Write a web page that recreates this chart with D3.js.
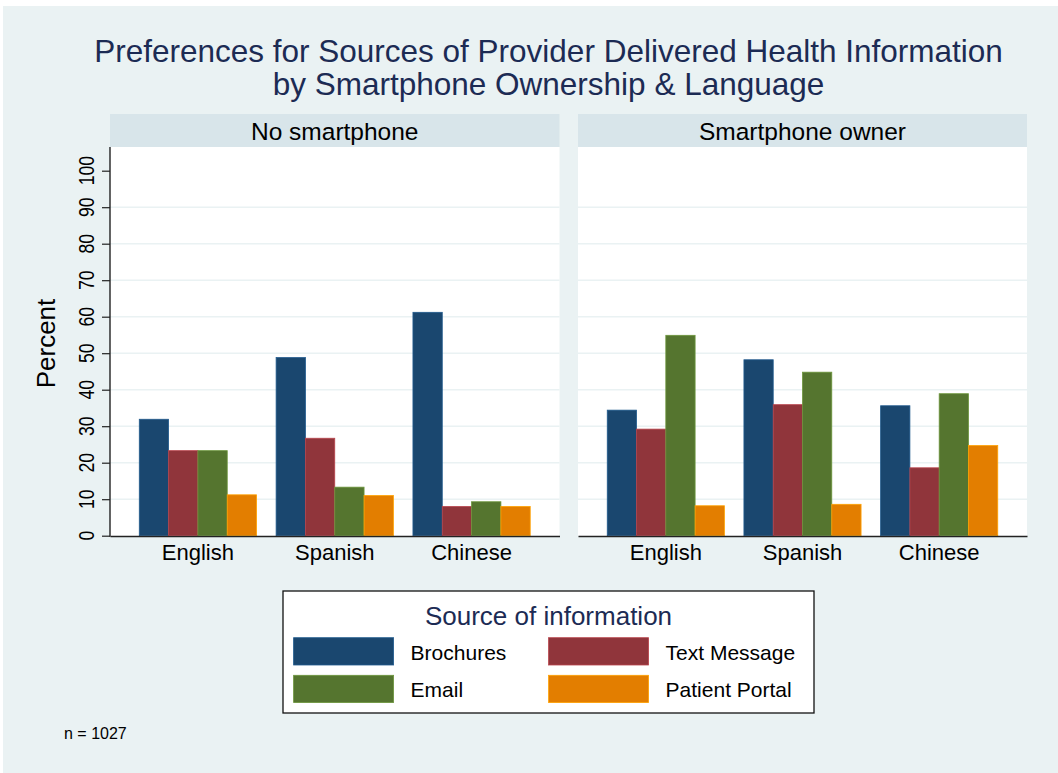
<!DOCTYPE html>
<html>
<head>
<meta charset="utf-8">
<script src="https://cdn.jsdelivr.net/npm/d3@7"></script>
<style>
  body { margin: 0; background: #fff; }
  svg text { font-family: "Liberation Sans", Arial, Helvetica, sans-serif; }
</style>
</head>
<body>
<div id="chart"></div>
<script>
// categories and series
const languages = ["English", "Spanish", "Chinese"];
const panels = ["No smartphone", "Smartphone owner"];
const sources = ["Brochures", "Text Message", "Email", "Patient Portal"];
const sourceColors = ["#1a476f", "#90353b", "#55752f", "#e37e00"];
const yTicks = [0, 10, 20, 30, 40, 50, 60, 70, 80, 90, 100];

// percent, rows = languages, columns = sources
const noPhoneValues = [
    [31.9, 23.3, 23.3, 11.2],
    [48.8, 26.7, 13.3, 11.0],
    [61.2, 8.0, 9.3, 8.0]
];
const ownerValues = [
    [34.4, 29.2, 54.9, 8.2],
    [48.2, 35.9, 44.8, 8.6],
    [35.6, 18.6, 38.9, 24.7]
];
const panelValues = [noPhoneValues, ownerValues];

let width = 1058, height = 773;
let svg = d3.select('#chart').append('svg')
    .attr('width', width)
    .attr('height', height);

// graph region
svg.append('rect')
    .attr('x', 3).attr('y', 6)
    .attr('width', width - 3).attr('height', height - 6)
    .attr('fill', '#eaf2f3');

// title
let title = svg.append('text')
    .attr('text-anchor', 'middle')
    .attr('fill', '#1c2b54')
    .attr('font-size', 31.5);
title.append('tspan').attr('x', 548.5).attr('y', 62)
    .text('Preferences for Sources of Provider Delivered Health Information');
title.append('tspan').attr('x', 548.5).attr('y', 95)
    .text('by Smartphone Ownership & Language');

let plotTop = 147, plotBottom = 536;
let panelRanges = [[110, 559.5], [578, 1027]];

let y = d3.scaleLinear().domain([0, 100]).range([535.7, 170.7]);

panels.forEach(function (name, p) {
    let [x0, x1] = panelRanges[p];
    let g = svg.append('g');

    // strip header
    g.append('rect')
        .attr('x', x0).attr('y', 114)
        .attr('width', x1 - x0).attr('height', plotTop - 114)
        .attr('fill', '#d8e5ea');
    g.append('text')
        .attr('x', (x0 + x1) / 2).attr('y', 139.5)
        .attr('text-anchor', 'middle')
        .attr('font-size', 24.5)
        .attr('fill', '#000')
        .text(name);

    // plot region
    g.append('rect')
        .attr('x', x0).attr('y', plotTop)
        .attr('width', x1 - x0).attr('height', plotBottom - plotTop)
        .attr('fill', '#fff');

    // gridlines
    g.selectAll('line.grid')
        .data(yTicks.filter(d => d > 0 && d < 100))
        .enter().append('line')
        .attr('class', 'grid')
        .attr('x1', x0).attr('x2', x1)
        .attr('y1', d => y(d)).attr('y2', d => y(d))
        .attr('stroke', '#eaf2f3')
        .attr('stroke-width', 1.5);

    let xg = d3.scaleBand()
        .domain(languages)
        .range([x0, x1])
        .paddingInner(0.143)
        .paddingOuter(0.214);
    let xs = d3.scaleBand()
        .domain(sources)
        .range([0, xg.bandwidth()]);

    let groups = g.selectAll('g.lang')
        .data(languages)
        .enter().append('g')
        .attr('class', 'lang')
        .attr('transform', d => `translate(${xg(d)},0)`);

    groups.selectAll('rect')
        .data((d, i) => sources.map((s, j) => ({ source: s, value: panelValues[p][i][j], color: sourceColors[j] })))
        .enter().append('rect')
        .attr('x', d => xs(d.source))
        .attr('width', xs.bandwidth())
        .attr('y', d => y(d.value))
        .attr('height', d => y(0) - y(d.value))
        .attr('fill', d => d.color)
        .attr('stroke', d => d3.color(d.color).brighter(0.7))
        .attr('stroke-width', 0.8);

    // x axis
    let xAxis = g.append('g')
        .attr('transform', `translate(0,${plotBottom})`)
        .call(d3.axisBottom(xg).tickSize(0).tickSizeOuter(0).tickPadding(8));
    xAxis.select('.domain').attr('stroke', '#222').attr('stroke-width', 1.4);
    xAxis.selectAll('text')
        .attr('font-size', 22)
        .attr('fill', '#000')
        .attr('font-family', '"Liberation Sans", Arial, sans-serif')
        .attr('dy', '0.71em');

    // y axis only on the first panel
    if (p === 0) {
        let yAxis = g.append('g')
            .attr('transform', `translate(${x0},0)`)
            .call(d3.axisLeft(y).tickValues(yTicks).tickSize(8).tickFormat(''));
        yAxis.select('.domain').remove();
        yAxis.selectAll('line').attr('stroke', '#222').attr('stroke-width', 1.2);
        g.append('line')
            .attr('x1', x0).attr('x2', x0)
            .attr('y1', plotTop).attr('y2', plotBottom + 0.7)
            .attr('stroke', '#222').attr('stroke-width', 1.4);

        g.selectAll('text.ytick')
            .data(yTicks)
            .enter().append('text')
            .attr('class', 'ytick')
            .attr('transform', d => `translate(93.5,${y(d)}) rotate(-90) scale(0.8,1)`)
            .attr('text-anchor', 'middle')
            .attr('font-size', 22)
            .attr('fill', '#000')
            .text(d => d);

        g.append('text')
            .attr('transform', 'translate(55,343.5) rotate(-90)')
            .attr('text-anchor', 'middle')
            .attr('font-size', 26)
            .attr('fill', '#000')
            .text('Percent');
    }
});

// legend
let legend = svg.append('g');
legend.append('rect')
    .attr('x', 283).attr('y', 591)
    .attr('width', 531).attr('height', 122)
    .attr('fill', '#fff')
    .attr('stroke', '#111')
    .attr('stroke-width', 1.3);
legend.append('text')
    .attr('x', 548.5).attr('y', 625)
    .attr('text-anchor', 'middle')
    .attr('font-size', 26)
    .attr('fill', '#1c2b54')
    .text('Source of information');

let legendCols = [293.6, 548.6];
let legendRows = [637.7, 675.3];
let items = legend.selectAll('g.item')
    .data(sources)
    .enter().append('g')
    .attr('class', 'item')
    .attr('transform', (d, i) => `translate(${legendCols[i % 2]},${legendRows[Math.floor(i / 2)]})`);
items.append('rect')
    .attr('width', 100).attr('height', 27.3)
    .attr('fill', (d, i) => sourceColors[i])
    .attr('stroke', (d, i) => d3.color(sourceColors[i]).brighter(0.7))
    .attr('stroke-width', 0.8);
items.append('text')
    .attr('x', 117).attr('y', 22)
    .attr('font-size', 21)
    .attr('fill', '#000')
    .text(d => d);

// note
svg.append('text')
    .attr('x', 64).attr('y', 739)
    .attr('font-size', 16)
    .attr('fill', '#000')
    .text('n = 1027');
</script>
</body>
</html>
